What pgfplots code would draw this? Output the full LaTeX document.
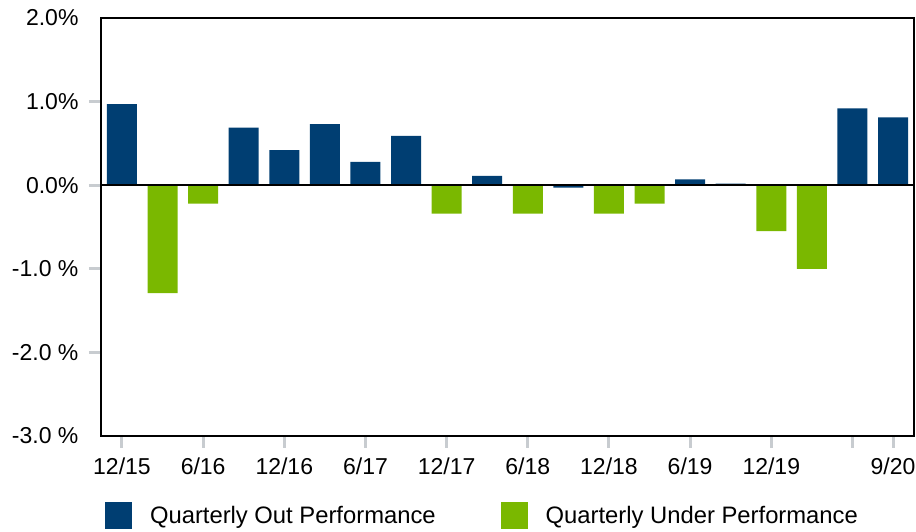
\documentclass[border=0pt]{standalone}
\usepackage{fontspec}
\setmainfont{Liberation Sans}
\usepackage{pgfplots}
\pgfplotsset{compat=1.18}
\definecolor{outblue}{RGB}{0,62,114}
\definecolor{undergreen}{RGB}{122,184,0}
\definecolor{tickgray}{RGB}{200,204,208}
\begin{document}
\begin{tikzpicture}[font=\fontsize{23}{27}\selectfont]
\begin{axis}[name=ax, scale only axis, width=813pt, height=418pt,
 xmin=-0.517, xmax=19.517, ymin=-3, ymax=2,
 axis line style={black, line width=1.5pt},
 ybar, bar width=30pt, bar shift=0pt,
 xtick={0,2,4,6,8,10,12,14,16,18,19},
 xticklabels={12/15,6/16,12/16,6/17,12/17,6/18,12/18,6/19,12/19,,9/20},
 ytick={-2,-1,0,1}, yticklabels={-2.0 \%,-1.0 \%,0.0\%,1.0\%},
 extra y ticks={-3,2}, extra y tick labels={-3.0 \%,2.0\%},
 extra y tick style={major tick style={draw=none}},
 xtick pos=left, ytick pos=left,
 tick align=outside, major tick length=12pt,
 major tick style={tickgray, line width=3pt},
 tick label style={font=\fontsize{23}{27}\selectfont},
 yticklabel style={xshift=-7pt},
 xticklabel style={yshift=-6pt},
 legend style={draw=none, fill=none, at={(axis description cs:0.001,-0.153)}, anchor=north west,
   font=\fontsize{23.8}{27}\selectfont, /tikz/every even column/.append style={column sep=63pt}},
 legend columns=2, legend cell align=left]
\addplot[draw=none, fill=outblue, legend image code/.code={\fill[outblue] (0pt,-13.5pt) rectangle (27pt,13.5pt); \path (43pt,0pt);}]
 coordinates {(0,0.97) (3,0.69) (4,0.42) (5,0.73) (6,0.28) (7,0.59) (9,0.11) (11,-0.03) (14,0.07) (15,0.02) (18,0.92) (19,0.81)};
\addlegendentry{Quarterly Out Performance}
\addplot[draw=none, fill=undergreen, legend image code/.code={\fill[undergreen] (0pt,-13.5pt) rectangle (27pt,13.5pt); \path (43pt,0pt);}]
 coordinates {(1,-1.29) (2,-0.22) (8,-0.34) (10,-0.34) (12,-0.34) (13,-0.22) (16,-0.55) (17,-1.00)};
\addlegendentry{Quarterly Under Performance}
\draw[black, line width=1.5pt] (rel axis cs:0,0.6) -- (rel axis cs:1,0.6);
\end{axis}
\pgfresetboundingbox
\path[use as bounding box] ([xshift=-101pt,yshift=-96pt]ax.south west) rectangle ([xshift=2pt,yshift=18pt]ax.north east);
\end{tikzpicture}
\end{document}
